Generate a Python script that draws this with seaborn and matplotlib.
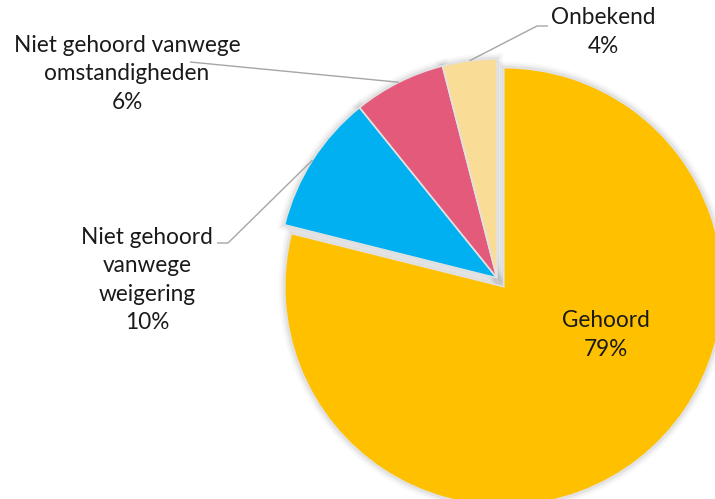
import numpy as np
import matplotlib.pyplot as plt
import seaborn as sns
from matplotlib.patches import Wedge

# data (clockwise from 12 o'clock)
categories = ["Gehoord", "Niet gehoord\nvanwege\nweigering",
              "Niet gehoord vanwege\nomstandigheden", "Onbekend"]
shares = [78.9, 10.3, 6.8, 4.0]
pct_labels = ["79%", "10%", "6%", "4%"]
colors = ["#FFC000", "#00B0F0", "#E45A7B", "#F9DC96"]

sns.set_style("white")
plt.rcParams["font.family"] = ["Lato", "DejaVu Sans"]

W, H = 715, 499
CX, CY, R = 497, 278, 219  # pie centre / radius in pixels


def to_data(px, py):
    return (px - CX) / R, (CY - py) / R


fig = plt.figure(figsize=(W / 100, H / 100), dpi=100)
ax = fig.add_axes([0, 0, 1, 1])

wedges, _ = ax.pie(shares, colors=colors, startangle=90, counterclock=False,
                   explode=[0.05, 0, 0, 0],
                   wedgeprops=dict(edgecolor="#E2E2E2", linewidth=1.2, zorder=3))

# soft shadow behind the slices
for w in wedges:
    for lw, a in [(9, 0.025), (6, 0.035), (3, 0.05)]:
        ax.add_patch(Wedge(w.center, w.r, w.theta1, w.theta2, facecolor="none",
                           edgecolor="black", linewidth=lw, alpha=a, zorder=1))

ax.set_xlim(-CX / R, (W - CX) / R)
ax.set_ylim(-(H - CY) / R, CY / R)
ax.set_aspect("equal")
ax.axis("off")

# label positions (pixels) and leader elbows
label_pos = [(606, 335), (147, 280), (127, 74), (603, 32)]
leaders = [None, [(217, 243), (228, 243)], [(190, 62)], [(548, 26), (537, 26)]]

for w, name, pct, pos, lead in zip(wedges, categories, pct_labels, label_pos, leaders):
    x, y = to_data(*pos)
    ax.text(x, y, f"{name}\n{pct}", ha="center", va="center", multialignment="center",
            fontsize=16.3, linespacing=1.42, color="#1A1A1A", zorder=5)
    if lead is not None:
        ang = np.deg2rad((w.theta1 + w.theta2) / 2)
        pts = [to_data(*p) for p in lead] + [(np.cos(ang), np.sin(ang))]
        xs, ys = zip(*pts)
        ax.plot(xs, ys, color="#A6A6A6", linewidth=1.0, solid_capstyle="butt", zorder=4)

fig.savefig("out.png", dpi=100)
